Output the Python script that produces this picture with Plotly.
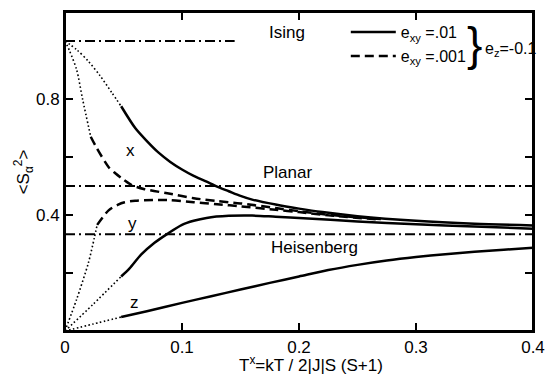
import plotly.graph_objects as go

# ---- data ----
# x-component, e_xy = .01 (solid) and its dotted extrapolation to T=0
xs_dot_T = [0, 0.01, 0.02, 0.03, 0.04, 0.048]
xs_dot_S = [1.0, 0.97, 0.93, 0.88, 0.822, 0.775]
xs_T = [0.048, 0.06, 0.07, 0.08, 0.09, 0.1, 0.11, 0.12, 0.13, 0.14, 0.15, 0.16, 0.18, 0.2, 0.22, 0.25, 0.3, 0.35, 0.4]
xs_S = [0.775, 0.70, 0.655, 0.615, 0.583, 0.557, 0.535, 0.517, 0.498, 0.482, 0.466, 0.453, 0.436, 0.422, 0.41, 0.396, 0.38, 0.37, 0.364]

# x-component, e_xy = .001 (dashed)
xd_dot_T = [0, 0.004, 0.01, 0.015, 0.022]
xd_dot_S = [1.0, 0.965, 0.9, 0.8, 0.67]
xd_T = [0.022, 0.027, 0.0375, 0.043, 0.05, 0.057, 0.068, 0.0875, 0.11, 0.13, 0.15, 0.18, 0.2, 0.23, 0.27]
xd_S = [0.67, 0.632, 0.564, 0.544, 0.522, 0.503, 0.489, 0.475, 0.458, 0.448, 0.44, 0.424, 0.413, 0.399, 0.386]

# y-component, e_xy = .001 (dashed)
yd_dot_T = [0, 0.01, 0.02, 0.025, 0.0275]
yd_dot_S = [0, 0.11, 0.235, 0.32, 0.366]
yd_T = [0.0275, 0.0375, 0.045, 0.051, 0.06, 0.068, 0.08, 0.09, 0.11, 0.13, 0.15, 0.18, 0.2, 0.23, 0.27]
yd_S = [0.366, 0.417, 0.435, 0.444, 0.449, 0.451, 0.452, 0.451, 0.444, 0.437, 0.43, 0.418, 0.41, 0.397, 0.384]

# y-component, e_xy = .01 (solid)
ys_dot_T = [0, 0.024, 0.048]
ys_dot_S = [0, 0.092, 0.188]
ys_T = [0.048, 0.055, 0.065, 0.0765, 0.0875, 0.1, 0.11, 0.121, 0.14, 0.16, 0.18, 0.2, 0.25, 0.3, 0.35, 0.4]
ys_S = [0.188, 0.215, 0.263, 0.304, 0.335, 0.366, 0.38, 0.39, 0.397, 0.398, 0.394, 0.39, 0.378, 0.368, 0.36, 0.353]

# z-component (solid)
zs_dot_T = [0, 0.024, 0.048]
zs_dot_S = [0, 0.024, 0.048]
zs_T = [0.048, 0.07, 0.1, 0.125, 0.15, 0.175, 0.2, 0.225, 0.25, 0.275, 0.3, 0.325, 0.35, 0.375, 0.4]
zs_S = [0.048, 0.068, 0.097, 0.12, 0.143, 0.166, 0.188, 0.21, 0.228, 0.243, 0.255, 0.265, 0.273, 0.28, 0.287]

# limiting values
ising_T = [0, 0.145]
ising_S = [1.0, 1.0]
planar_T = [0, 0.4]
planar_S = [0.5, 0.5]
heis_T = [0, 0.4]
heis_S = [1/3, 1/3]

x_tickvals = [0, 0.1, 0.2, 0.3, 0.4]
x_ticktext = ["0", "0.1", "0.2", "0.3", "0.4"]
y_tickvals = [0.4, 0.8]
y_ticktext = ["0.4", "0.8"]
y_minorvals = [0.2, 0.6]

legend_names = ["e<sub>xy</sub> =.01", "e<sub>xy</sub> =.001"]

FONT = "Liberation Sans"
BLACK = "black"
DOT = "1.6px,2.4px"
DASH = "9px,5px"
DASHDOT = "10px,4px,2px,4px"

fig = go.Figure()

def add(T, S, dash, width, name=None, show=False):
    fig.add_trace(go.Scatter(x=T, y=S, mode="lines",
                             line=dict(color=BLACK, width=width, dash=dash, shape="spline", smoothing=0.8),
                             name=name, showlegend=show, hoverinfo="skip"))

# reference lines
add(ising_T, ising_S, DASHDOT, 2)
add(planar_T, planar_S, DASHDOT, 2)
add(heis_T, heis_S, DASHDOT, 2)

# dotted extrapolations
add(xs_dot_T, xs_dot_S, DOT, 1.6)
add(xd_dot_T, xd_dot_S, DOT, 1.6)
add(yd_dot_T, yd_dot_S, DOT, 1.6)
add(ys_dot_T, ys_dot_S, DOT, 1.6)
add(zs_dot_T, zs_dot_S, DOT, 1.6)

# main curves
add(xs_T, xs_S, "solid", 2.5, legend_names[0], True)
add(xd_T, xd_S, DASH, 2.5, legend_names[1], True)
add(yd_T, yd_S, DASH, 2.5)
add(ys_T, ys_S, "solid", 2.5)
add(zs_T, zs_S, "solid", 2.5)

tick_common = dict(ticks="inside", ticklen=8, tickwidth=1.5, tickcolor=BLACK,
                   showgrid=False, zeroline=False)
axis_common = dict(showline=True, linecolor=BLACK, linewidth=2, mirror="ticks",
                   tickfont=dict(family=FONT, size=17, color=BLACK), **tick_common)
minor_y = dict(tickvals=y_minorvals, ticks="inside", ticklen=8, tickwidth=1.5,
               tickcolor=BLACK, showgrid=False)

fig.update_layout(
    xaxis=dict(range=[0, 0.4], tickvals=x_tickvals, ticktext=x_ticktext, **axis_common),
    yaxis=dict(range=[0, 1.1], tickvals=y_tickvals, ticktext=y_ticktext, minor=minor_y, **axis_common),
)

# plot frame
fig.add_shape(type="rect", xref="paper", yref="paper", x0=0, x1=1, y0=0, y1=1,
              line=dict(color=BLACK, width=2), layer="above")

ann = []
def txt(x, y, s, size=17, xref="x", yref="y", angle=0, xanchor="center"):
    ann.append(dict(x=x, y=y, xref=xref, yref=yref, text=s, showarrow=False,
                    font=dict(family=FONT, size=size, color=BLACK),
                    textangle=angle, xanchor=xanchor, yanchor="middle"))

txt(0.19, 1.03, "Ising")
txt(0.19, 0.545, "Planar")
txt(0.213, 0.288, "Heisenberg")
txt(0.056, 0.622, "x")
txt(0.058, 0.37, "y")
txt(0.059, 0.097, "z")
txt(0.876, 0.9, "}", size=46, xref="paper", yref="paper")
txt(0.952, 0.882, "e<sub>z</sub>=-0.1", size=16, xref="paper", yref="paper")
txt(0.526, -0.103, "T<sup>x</sup>=kT / 2|J|S (S+1)", xref="paper", yref="paper")
txt(-0.088, 0.5, "&lt;S<sub>α</sub><sup>2</sup>&gt;", xref="paper", yref="paper", angle=-90)

fig.update_layout(
    width=555, height=377,
    margin=dict(l=65, r=11, t=10, b=46),
    plot_bgcolor="white", paper_bgcolor="white",
    font=dict(family=FONT, size=17, color=BLACK),
    annotations=ann,
    legend=dict(x=0.6, y=0.99, xanchor="left", yanchor="top",
                bgcolor="rgba(0,0,0,0)", itemwidth=45,
                font=dict(family=FONT, size=16, color=BLACK)),
)

# remove the default 8px page margin so the figure fills the window exactly
fig.write_html("out.html", config={"displayModeBar": False},
               post_script="document.body.style.margin='0';")
